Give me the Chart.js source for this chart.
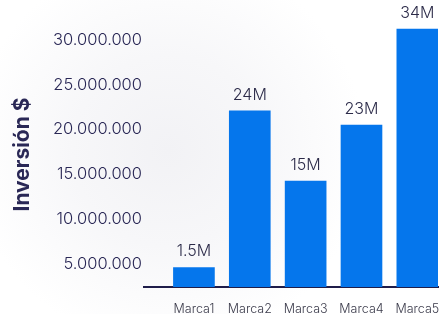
<!DOCTYPE html>
<html>
<head>
<meta charset="utf-8">
<script src="https://cdn.jsdelivr.net/npm/chart.js@4/dist/chart.umd.min.js"></script>
<style>
  html, body { margin: 0; padding: 0; }
  body {
    width: 442px; height: 314px; overflow: hidden;
    background: radial-gradient(circle at 38% 48%, #f2f2f5 0%, #f7f7f9 30%, #ffffff 62%);
  }
  canvas { display: block; }
</style>
</head>
<body>
<canvas id="chart" width="442" height="314"></canvas>
<script>
// Categories and values
const categories = ['Marca1', 'Marca2', 'Marca3', 'Marca4', 'Marca5']
const investment = [4590000, 22080000, 14260000, 20510000, 31200000]
const valueLabels = ['1.5M', '24M', '15M', '23M', '34M']
const yTicks = [5000000, 10000000, 15000000, 20000000, 25000000, 30000000]

const navy = '#2a2856'

// Write the text above each bar
const barLabels = {
  id: 'barLabels',
  afterDatasetsDraw(chart) {
    const ctx = chart.ctx
    const meta = chart.getDatasetMeta(0)
    ctx.save()
    ctx.font = '300 16px Inter'
    ctx.fillStyle = '#2b2a48'
    ctx.textAlign = 'center'
    ctx.textBaseline = 'middle'
    meta.data.forEach((bar, i) => {
      ctx.fillText(valueLabels[i], bar.x, bar.y - 16)
    })
    ctx.restore()
  }
}

const ctx = document.getElementById('chart').getContext('2d')

new Chart(ctx, {
  type: 'bar',
  data: {
    datasets: [{
      data: investment.map((v, i) => ({ x: i + 1, y: v })),
      backgroundColor: '#0576ec',
      barThickness: 41
    }]
  },
  options: {
    responsive: false,
    animation: false,
    layout: { padding: { top: 22, right: 4, left: 0, bottom: 0 } },
    plugins: {
      legend: { display: false },
      tooltip: { enabled: false }
    },
    scales: {
      x: {
        type: 'linear',
        min: 0.106,
        max: 5.37,
        offset: false,
        afterBuildTicks: s => { s.ticks = categories.map((c, i) => ({ value: i + 1 })) },
        afterFit: s => { s.height = 27; s.paddingLeft = 0; s.paddingRight = 0 },
        grid: { display: false, drawTicks: false, offset: false },
        border: { display: true, color: '#1f1d4a', width: 2 },
        ticks: {
          padding: 15,
          maxRotation: 0,
          autoSkip: false,
          color: '#3a3a4a',
          font: { family: 'Inter', size: 12.5, weight: 300 },
          callback: v => categories[v - 1]
        }
      },
      y: {
        min: 2430000,
        max: 32000000,
        afterBuildTicks: s => { s.ticks = yTicks.map(v => ({ value: v })) },
        afterFit: s => { s.width = 144; s.paddingTop = 0; s.paddingBottom = 0 },
        grid: { display: false, drawTicks: false },
        border: { display: false },
        ticks: {
          padding: 2,
          color: navy,
          font: { family: 'Inter', size: 16.5, weight: 300 },
          callback: v => v.toLocaleString('de-DE')
        },
        title: {
          display: true,
          text: 'Inversión $',
          color: navy,
          font: { family: 'Inter', size: 21, weight: 'bold' },
          padding: { top: 10, bottom: 0 }
        }
      }
    }
  },
  plugins: [barLabels]
})
</script>
</body>
</html>
